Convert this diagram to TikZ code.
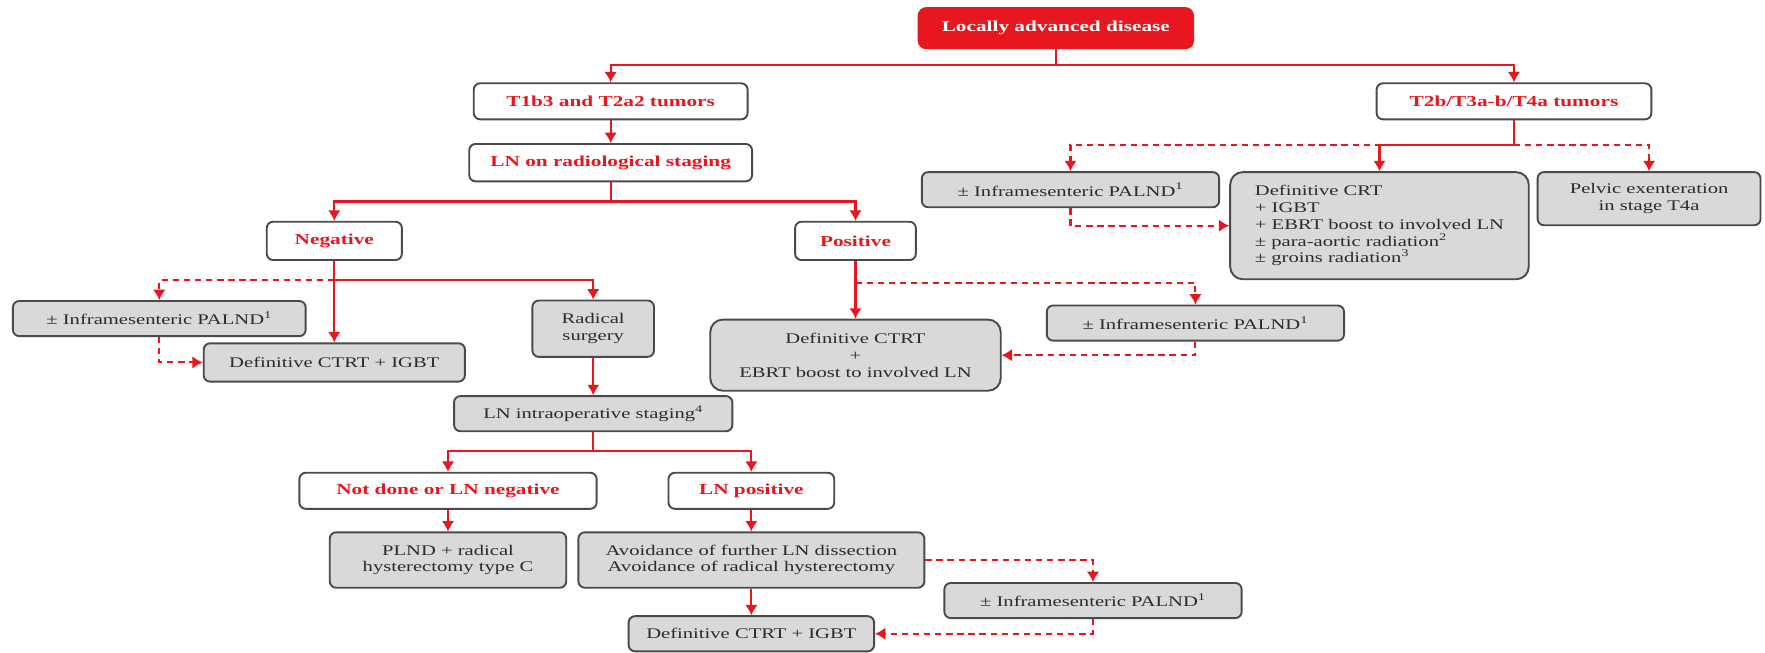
\documentclass[tikz,border=0pt]{standalone}
\usepackage{fontspec}
\setmainfont[FakeStretch=1.4]{Liberation Serif}
\usepackage{xcolor}
\definecolor{mainRed}{HTML}{E8161E}
\definecolor{boxEdge}{HTML}{4A4A4A}
\definecolor{boxGrey}{HTML}{D9D9D9}
\definecolor{textDark}{HTML}{2B2B2B}
\usepackage{tikz}
\usetikzlibrary{arrows.meta}
\tikzset{%
  rootBox/.style={%
    rectangle,
    rounded corners=5pt,
    draw=mainRed,
    fill=mainRed,
    text=white,
    line width=1pt,
    font=\fontsize{9.6}{10.8}\selectfont\bfseries,
    minimum height=0.9cm,
    align=center
  },
  stageBox/.style={%
    rectangle,
    rounded corners=4pt,
    draw=boxEdge,
    fill=white,
    text=mainRed,
    line width=1.2pt,
    font=\fontsize{9.6}{10.8}\selectfont\bfseries,
    minimum height=0.8cm,
    align=center
  },
  careBox/.style={%
    rectangle,
    rounded corners=4pt,
    draw=boxEdge,
    fill=boxGrey,
    text=textDark,
    line width=1.2pt,
    font=\fontsize{9.3}{10.6}\selectfont,
    minimum height=0.78cm,
    align=center
  },
  plainLine/.style={%
    line width=1.3pt,
    color=mainRed
  },
  arrowLine/.style={%
    -{Latex[length=2.3mm,width=2.8mm]},
    line width=1.3pt,
    color=mainRed
  },
  optLine/.style={%
    arrowLine,
    dash pattern=on 4pt off 3pt
  }
}

\begin{document}
\begin{tikzpicture}[x=0.025cm,y=-0.025cm]
  \useasboundingbox (0,0) rectangle (1568,580);

  % top of the tree
  \node[rootBox, minimum width=6.1cm] (root) at (938,25) {Locally advanced disease};
  \node[stageBox, minimum width=6.08cm] (early) at (542.5,90) {T1b3 and T2a2 tumors};
  \node[stageBox, minimum width=6.1cm] (late) at (1345,90) {T2b/T3a-b/T4a tumors};

  % early branch
  \node[stageBox, minimum width=6.28cm, minimum height=0.83cm] (lnRadio) at (542.5,144.5) {LN on radiological staging};
  \node[stageBox, minimum width=3cm, minimum height=0.85cm] (negative) at (297,214) {Negative};
  \node[stageBox, minimum width=2.68cm, minimum height=0.85cm] (positive) at (760,214) {Positive};
  \node[careBox, minimum width=6.5cm] (palndLeft) at (141.5,283) {± Inframesenteric PALND\textsuperscript{1}};
  \node[careBox, minimum width=5.8cm, minimum height=0.85cm] (ctrtLeft) at (297,322) {Definitive CTRT + IGBT};
  \node[careBox, minimum width=2.7cm, minimum height=1.25cm] (radical) at (527,292) {Radical\\surgery};
  \node[careBox, minimum width=6.18cm] (lnIntra) at (527,367.5) {LN intraoperative staging\textsuperscript{4}};
  \node[stageBox, minimum width=6.6cm] (notDone) at (398,436) {Not done or LN negative};
  \node[stageBox, minimum width=3.68cm] (lnPos) at (667.5,436) {LN positive};
  \node[careBox, minimum width=5.25cm, minimum height=1.23cm] (plnd) at (398,497.5) {PLND + radical\\hysterectomy type C};
  \node[careBox, minimum width=7.68cm, minimum height=1.23cm] (avoid) at (667.5,497.5) {Avoidance of further LN dissection\\Avoidance of radical hysterectomy};
  \node[careBox, minimum width=5.45cm] (ctrtLow) at (667.5,563) {Definitive CTRT + IGBT};
  \node[careBox, minimum width=6.6cm] (palndLow) at (971,533.5) {± Inframesenteric PALND\textsuperscript{1}};
  \node[careBox, minimum width=6.45cm, minimum height=1.58cm, rounded corners=8pt] (ctrtEbrt) at (760,315.5) {Definitive CTRT\\+\\EBRT boost to involved LN};
  \node[careBox, minimum width=6.6cm] (palndMid) at (1062,287) {± Inframesenteric PALND\textsuperscript{1}};

  % late branch
  \node[careBox, minimum width=6.6cm] (palndRight) at (951,168.5) {± Inframesenteric PALND\textsuperscript{1}};
  \node[careBox, minimum width=6.63cm, minimum height=2.38cm, rounded corners=8pt, align=left] (defCrt) at (1225.5,200.5) {Definitive CRT\\+ IGBT\\+ EBRT boost to involved LN\\± para-aortic radiation\textsuperscript{2}\\± groins radiation\textsuperscript{3}};
  \node[careBox, minimum width=4.95cm, minimum height=1.18cm] (pelvic) at (1465,176.5) {Pelvic exenteration\\in stage T4a};

  % split points
  \coordinate (rootSplit) at (938,58);
  \coordinate (radioSplit) at (542.5,179);
  \coordinate (negSplit) at (297,249);
  \coordinate (posSplit) at (760,251);
  \coordinate (intraSplit) at (527,401);
  \coordinate (lateSplit) at (1345,129);

  % connectors
  \draw[plainLine] (root) -- (rootSplit);
  \draw[arrowLine] (rootSplit) -| (early);
  \draw[arrowLine] (rootSplit) -| (late);
  \draw[arrowLine] (early) -- (lnRadio);
  \draw[plainLine] (lnRadio) -- (radioSplit);
  \draw[arrowLine] (radioSplit) -| (negative);
  \draw[arrowLine] (radioSplit) -| (positive);

  \draw[arrowLine] (negative) -- (ctrtLeft);
  \draw[arrowLine] (negSplit) -| (radical);
  \draw[optLine] (negSplit) -| (palndLeft);
  \draw[optLine] (palndLeft) |- (ctrtLeft);
  \draw[arrowLine] (radical) -- (lnIntra);
  \draw[plainLine] (lnIntra) -- (intraSplit);
  \draw[arrowLine] (intraSplit) -| (notDone);
  \draw[arrowLine] (intraSplit) -| (lnPos);
  \draw[arrowLine] (notDone) -- (plnd);
  \draw[arrowLine] (lnPos) -- (avoid);
  \draw[arrowLine] (avoid) -- (ctrtLow);
  \draw[optLine] (avoid) -| (palndLow);
  \draw[optLine] (palndLow) |- (ctrtLow);

  \draw[arrowLine] (positive) -- (ctrtEbrt);
  \draw[optLine] (posSplit) -| (palndMid);
  \draw[optLine] (palndMid) |- (ctrtEbrt);

  \draw[plainLine] (late) -- (lateSplit);
  \draw[arrowLine] (lateSplit) -| (defCrt);
  \draw[optLine] (lateSplit) -| (palndRight);
  \draw[optLine] (lateSplit) -| (pelvic);
  \draw[optLine] (palndRight) |- (defCrt);
\end{tikzpicture}
\end{document}
